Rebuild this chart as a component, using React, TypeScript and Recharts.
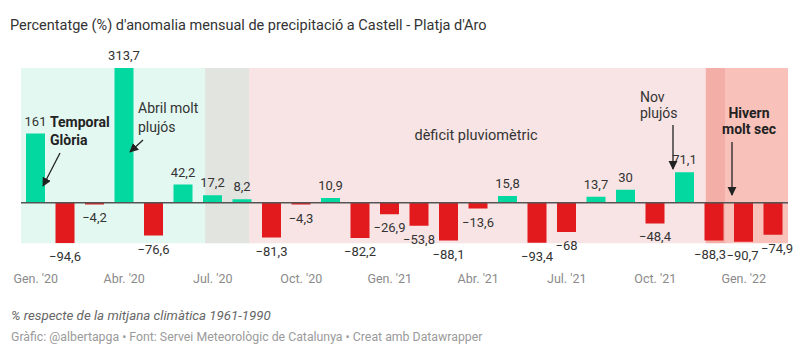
import React from 'react';
import { BarChart, Bar, XAxis, YAxis, ReferenceArea, ReferenceLine, Cell, LabelList } from 'recharts';

const FONT = 'Roboto, "Noto Sans", sans-serif';

const categories = [
  '2020-01', '2020-02', '2020-03', '2020-04', '2020-05', '2020-06', '2020-07', '2020-08', '2020-09', '2020-10', '2020-11', '2020-12',
  '2021-01', '2021-02', '2021-03', '2021-04', '2021-05', '2021-06', '2021-07', '2021-08', '2021-09', '2021-10', '2021-11', '2021-12',
  '2022-01', '2022-02',
];
const values = [
  161, -94.6, -4.2, 313.7, -76.6, 42.2, 17.2, 8.2, -81.3, -4.3, 10.9, -82.2,
  -26.9, -53.8, -88.1, -13.6, 15.8, -93.4, -68, 13.7, 30, -48.4, 71.1, -88.3,
  -90.7, -74.9,
];
const tickIndex = [0, 3, 6, 9, 12, 15, 18, 21, 24];
const tickLabels = ["Gen. '20", "Abr. '20", "Jul. '20", "Oct. '20", "Gen. '21", "Abr. '21", "Jul. '21", "Oct. '21", "Gen. '22"];

const data = categories.map((m, i) => ({ idx: i, month: m, value: values[i] }));

const GREEN = '#03d8a0';
const RED = '#e2191d';

const labelNudge: Record<number, number> = { 23: -4, 24: -1, 25: 4 };

const fmt = (v: number) => String(v).replace('.', ',').replace('-', '\u2212');

const ValueLabel = (props: any) => {
  const { x, y, width, height, value, index } = props;
  const top = Math.min(y, y + height);
  const bottom = Math.max(y, y + height);
  const cx = x + width / 2 + (labelNudge[index] || 0);
  const ty = value >= 0 ? top - 8 : bottom + 18;
  return (
    <text x={cx} y={ty} textAnchor="middle" fontSize={13} fill="#333" fontFamily={FONT}>
      {fmt(value)}
    </text>
  );
};

const Tick = (props: any) => {
  const { x, y, payload } = props;
  const i = tickIndex.indexOf(payload.value);
  return (
    <text x={x} y={y + 40} textAnchor="middle" fontSize={12.5} fill="#8a8a8a" fontFamily={FONT}>
      {tickLabels[i]}
    </text>
  );
};

export default function App() {
  return (
    <div style={{ position: 'absolute', left: 0, top: 0, width: 800, height: 356, background: '#fff', fontFamily: FONT }}>
      <BarChart
        width={800}
        height={356}
        data={data}
        margin={{ top: 68, right: 12, bottom: 82.7, left: 21 }}
      >
        <XAxis
          dataKey="idx"
          type="number"
          domain={[-0.5, 25.5]}
          allowDataOverflow
          ticks={tickIndex}
          axisLine={false}
          tickLine={false}
          tickSize={0}
          tickMargin={0}
          height={30}
          tick={<Tick />}
          interval={0}
        />
        <YAxis hide domain={[-94.6, 313.7]} allowDataOverflow />
        <ReferenceArea x1={-0.5} x2={5.74} fill="#e3f8f1" fillOpacity={1} stroke="none" />
        <ReferenceArea x1={5.74} x2={7.23} fill="#e2e4e0" fillOpacity={1} stroke="none" />
        <ReferenceArea x1={7.23} x2={22.71} fill="#f8e4e4" fillOpacity={1} stroke="none" />
        <ReferenceArea x1={22.71} x2={23.39} fill="#f3aea7" fillOpacity={1} stroke="none" />
        <ReferenceArea x1={23.39} x2={25.5} fill="#f8c1ba" fillOpacity={1} stroke="none" />
        <Bar dataKey="value" barSize={19} isAnimationActive={false}>
          {data.map((d, i) => (
            <Cell key={i} fill={d.value >= 0 ? GREEN : RED} />
          ))}
          <LabelList dataKey="value" content={<ValueLabel />} />
        </Bar>
        <ReferenceLine y={0} stroke="#555" strokeWidth={1.5} />
      </BarChart>
      <svg width={800} height={356} style={{ position: 'absolute', left: 0, top: 0, pointerEvents: 'none' }}>
        <defs>
          <marker id="ah" viewBox="0 0 10 10" refX="9" refY="5" markerWidth="7" markerHeight="7" orient="auto-start-reverse">
            <path d="M0,0 L10,5 L0,10 z" fill="#222" />
          </marker>
        </defs>
        <text x={10} y={30} fontSize={14.5} fill="#333" fontFamily={FONT}>
          Percentatge (%) d'anomalia mensual de precipitació a Castell - Platja d'Aro
        </text>

        <text x={50} y={127} fontSize={14} fontWeight={700} fill="#222" fontFamily={FONT}>Temporal</text>
        <text x={50} y={145} fontSize={14} fontWeight={700} fill="#222" fontFamily={FONT}>Glòria</text>
        <line x1={60} y1={153} x2={43} y2={186} stroke="#222" strokeWidth={1.3} markerEnd="url(#ah)" />

        <text x={138} y={113} fontSize={14} fill="#333" fontFamily={FONT}>Abril molt</text>
        <text x={138} y={132} fontSize={14} fill="#333" fontFamily={FONT}>plujós</text>
        <line x1={143} y1={140} x2={130} y2={152} stroke="#222" strokeWidth={1.3} markerEnd="url(#ah)" />

        <text x={476} y={140} fontSize={14.5} textAnchor="middle" fill="#333" fontFamily={FONT}>dèficit pluviomètric</text>

        <text x={640} y={102} fontSize={14} fill="#333" fontFamily={FONT}>Nov</text>
        <text x={640} y={118} fontSize={14} fill="#333" fontFamily={FONT}>plujós</text>
        <line x1={673} y1={125} x2={673} y2={169} stroke="#222" strokeWidth={1.3} markerEnd="url(#ah)" />

        <text x={749} y={118} fontSize={14} fontWeight={700} textAnchor="middle" fill="#222" fontFamily={FONT}>Hivern</text>
        <text x={749} y={134} fontSize={14} fontWeight={700} textAnchor="middle" fill="#222" fontFamily={FONT}>molt sec</text>
        <line x1={732} y1={142} x2={732} y2={195} stroke="#222" strokeWidth={1.3} markerEnd="url(#ah)" />

        <text x={11} y={320} fontSize={13.3} fontStyle="italic" fill="#666" fontFamily={FONT}>
          % respecte de la mitjana climàtica 1961-1990
        </text>
        <text x={11} y={341} fontSize={12.3} fill="#9a9a9a" fontFamily={FONT}>
          Gràfic: @albertapga • Font: Servei Meteorològic de Catalunya • Creat amb Datawrapper
        </text>
      </svg>
    </div>
  );
}
